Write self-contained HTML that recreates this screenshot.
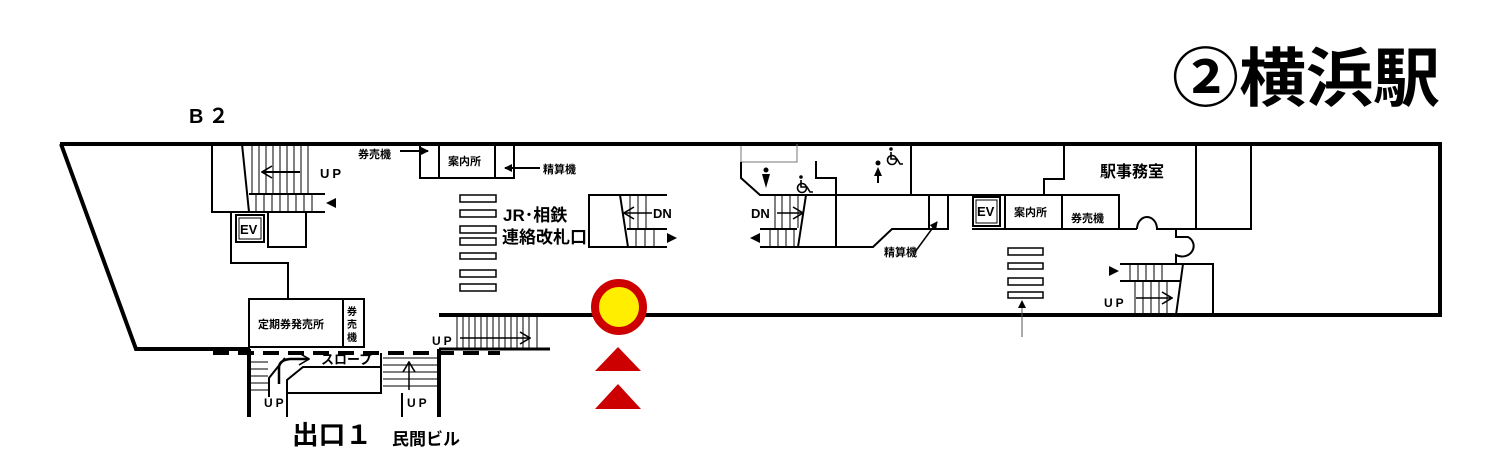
<!DOCTYPE html>
<html><head><meta charset="utf-8"><style>
html,body{margin:0;padding:0;background:#fff;width:1500px;height:474px;overflow:hidden}
svg{display:block}
text{font-family:"Liberation Sans","Noto Sans CJK JP",sans-serif;font-weight:bold;fill:#000}
</style></head><body>
<svg width="1500" height="474" viewBox="0 0 1500 474" xmlns="http://www.w3.org/2000/svg">
<defs>
<marker id="ah" markerWidth="8" markerHeight="8" refX="7" refY="4" orient="auto" markerUnits="userSpaceOnUse"><path d="M0,0 L8,4 L0,8 Z" fill="#000"/></marker>
<marker id="oa" markerWidth="12" markerHeight="14" refX="11" refY="7" orient="auto" markerUnits="userSpaceOnUse"><path d="M1,1 L11,7 L1,13" fill="none" stroke="#000" stroke-width="1.6"/></marker>
</defs>
<g stroke="#000" fill="none">
<path d="M60,144 L1440,144 L1440,315 L439,315" stroke-width="4"/>
<path d="M61,144 L136,349 L250,349" stroke-width="4"/>
<path d="M439,349 L550,349" stroke-width="3"/>
<path d="M213,353 L500,353" stroke-width="4" stroke-dasharray="16,9"/>
<path d="M212,144 L212,212 L325,212 M249,194 L325,194 M242,144 L249,212" stroke-width="2"/>
<g stroke-width="1"><path d="M252,146V194M259,146V194M266,146V194M273,146V194M280,146V194M287,146V194M294,146V194M301,146V194M308,146V194 M256,195V211M264,195V211M272,195V211M280,195V211M288,195V211M296,195V211M304,195V211M312,195V211"/></g>
<path d="M300,172 L262,172" stroke-width="2" marker-end="url(#oa)"/>
<rect x="236" y="215" width="28" height="27" stroke-width="2"/>
<rect x="239" y="218" width="22" height="21" stroke-width="1"/>
<path d="M268,212 L268,247 L306,247 L306,212" stroke-width="2"/>
<path d="M231,212 L231,263 L288,263 L288,299" stroke-width="2"/>
<rect x="249" y="299" width="115" height="48" stroke-width="2"/>
<path d="M343,299 L343,347" stroke-width="2"/>
<path d="M249,349 L249,417 M439,349 L439,417" stroke-width="4"/>
<g stroke-width="1"><path d="M251,362H268M251,369H268M251,376H268M251,383H268M251,390H268M383,358H437M383,365H437M383,372H437M383,379H437M383,386H437"/></g>
<path d="M269,397 L269,378 L285,358" stroke-width="2"/>
<path d="M287,417 L287,380 L303,367 L381,367 L381,353 M381,367 L381,393 L287,393 M402,393 L402,417" stroke-width="2"/>
<path d="M279,384 L279,368 Q279,360 290,359 L309,359" stroke-width="2.5" marker-end="url(#oa)"/>
<path d="M409,390 L409,362" stroke-width="1.5" marker-end="url(#oa)"/>
<rect x="457" y="315" width="80" height="34" stroke-width="1"/>
<g stroke-width="1"><path d="M463,315V349M469,315V349M475,315V349M481,315V349M487,315V349M493,315V349M499,315V349M505,315V349M511,315V349M517,315V349M523,315V349M529,315V349"/></g>
<path d="M460,338 L530,338" stroke-width="1.5" marker-end="url(#oa)"/>
<path d="M420,144 L420,178 L514,178 L514,144 M439,144 L439,178 M495,144 L495,178" stroke-width="2"/>
<path d="M400,151 L428,151" stroke-width="2" marker-end="url(#ah)"/>
<path d="M540,168 L505,168" stroke-width="2" marker-end="url(#ah)"/>
<g stroke-width="1.5"><rect x="460" y="195" width="36" height="7"/><rect x="460" y="210" width="36" height="7"/><rect x="460" y="226" width="36" height="7"/><rect x="460" y="238" width="36" height="7"/><rect x="460" y="253" width="36" height="6"/><rect x="460" y="270" width="36" height="7"/><rect x="460" y="284" width="36" height="7"/>
<rect x="1008" y="248" width="35" height="7"/><rect x="1008" y="263" width="35" height="6"/><rect x="1008" y="278" width="35" height="7"/><rect x="1008" y="292" width="35" height="6"/></g>
<path d="M667,195 L589,195 L589,247 L667,247 M627,229 L667,229 M620,195 L628,247" stroke-width="2"/>
<g stroke-width="1"><path d="M630,196V228M638,196V228M646,196V228M636,230V246M645,230V246M654,230V246"/></g>
<path d="M652,213 L624,213" stroke-width="1.5" marker-end="url(#oa)"/>
<path d="M741,146 L741,162 L797,162 L797,144" stroke-width="1" stroke="#777"/>
<path d="M741,162 L741,178 L760,195 L948,195 M806,195 L798,247 M760,247 L873,247 L892,229 L948,229 L948,195 M929,195 L929,229 M911,144 L911,195 M816,161 L816,178 L836,178 L836,247" stroke-width="2"/>
<path d="M760,229 L797,229" stroke-width="2"/>
<g stroke-width="1"><path d="M775,196V228M782,196V228M790,196V228M798,196V228M770,230V246M778,230V246M786,230V246M794,230V246"/></g>
<path d="M777,213 L803,213" stroke-width="1.5" marker-end="url(#oa)"/>
<path d="M915,252 L937,222" stroke-width="1.5" marker-end="url(#ah)"/>
<path d="M948,195 L1044,195 L1044,179 L1064,179 L1064,144 M1044,195 L1119,195 L1119,229 M972,229 L1137,229 M1005,195 L1005,229 M1062,195 L1062,229 M1137,229 A10,12 0 0 1 1157,229 L1251,229 L1251,144 M1196,144 L1196,229" stroke-width="2"/>
<rect x="973" y="197" width="27" height="29" stroke-width="2"/>
<rect x="976" y="200" width="21" height="23" stroke-width="1"/>
<path d="M1176,230 L1176,237 L1188,237 A10,9 0 0 1 1176,255 L1176,264 M1120,264 L1213,264 L1213,315 M1120,281 L1180,281 M1183,264 L1176,315" stroke-width="2"/>
<g stroke-width="1"><path d="M1130,265V281M1138,265V281M1146,265V281M1154,265V281M1162,265V281M1135,282V314M1143,282V314M1151,282V314M1159,282V314M1167,282V314"/></g>
<path d="M1136,298 L1172,298" stroke-width="1.5" marker-end="url(#oa)"/>
<path d="M1022,337 L1022,301" stroke-width="1" stroke="#555" marker-end="url(#ah)"/>
</g>
<g fill="#000">
<path d="M326,203 L336,198 L336,208 Z"/>
<path d="M667,233 L677,238 L667,243 Z"/>
<path d="M760,233 L750,238 L760,243 Z"/>
<path d="M1109,266 L1119,271 L1109,276 Z"/>
</g>
<g fill="#000">
<circle cx="766" cy="170" r="2.5"/><path d="M762,174 L770,174 L766,188 Z"/>
<circle cx="878" cy="163" r="2.5"/><path d="M874,176 L878,167 L882,176 Z M877,176h2v7h-2z"/>
</g>
<g fill="none" stroke="#000" stroke-width="1.6">
<circle cx="802" cy="188" r="4.5"/><path d="M801,180 L801,187 L807,187 L810,192 L813,192"/>
<circle cx="892" cy="160" r="4.5"/><path d="M891,152 L891,159 L897,159 L900,164 L903,164"/>
</g>
<g fill="#000"><circle cx="801" cy="177" r="1.8"/><circle cx="891" cy="149" r="1.8"/></g>
<circle cx="619" cy="307" r="24" fill="#ffee00" stroke="#cc0000" stroke-width="8"/>
<path d="M618,347 L641,371 L595,371 Z M618,384 L641,409 L595,409 Z" fill="#cc0000"/>
<text x="189" y="123" font-size="20" letter-spacing="5">B２</text>
<text x="1172" y="101" font-size="64" textLength="268" lengthAdjust="spacingAndGlyphs">②横浜駅</text>
<text x="320" y="178" font-size="13" font-weight="normal" letter-spacing="3">UP</text>
<text x="358" y="158" font-size="11">券売機</text>
<text x="448" y="165" font-size="11">案内所</text>
<text x="543" y="173" font-size="11">精算機</text>
<text x="503" y="221" font-size="17">JR･相鉄</text>
<text x="502" y="243" font-size="17">連絡改札口</text>
<text x="240" y="234" font-size="13">EV</text>
<text x="258" y="328" font-size="11">定期券発売所</text>
<text x="347" y="315" font-size="10">券</text><text x="347" y="328" font-size="10">売</text><text x="347" y="341" font-size="10">機</text>
<text x="432" y="345" font-size="12" font-weight="normal" letter-spacing="3">UP</text>
<text x="321" y="364" font-size="13">スロープ</text>
<text x="264" y="407" font-size="12" font-weight="normal" letter-spacing="3">UP</text>
<text x="407" y="407" font-size="12" font-weight="normal" letter-spacing="3">UP</text>
<text x="292" y="444" font-size="26" textLength="80" lengthAdjust="spacingAndGlyphs">出口１</text>
<text x="392" y="445" font-size="17">民間ビル</text>
<text x="653" y="218" font-size="13" font-weight="normal">DN</text>
<text x="751" y="218" font-size="13" font-weight="normal">DN</text>
<text x="884" y="256" font-size="11">精算機</text>
<text x="977" y="216" font-size="13">EV</text>
<text x="1014" y="216" font-size="11">案内所</text>
<text x="1071" y="222" font-size="11">券売機</text>
<text x="1100" y="177" font-size="16">駅事務室</text>
<text x="1104" y="307" font-size="12" font-weight="normal" letter-spacing="3">UP</text>
</svg>
</body></html>
